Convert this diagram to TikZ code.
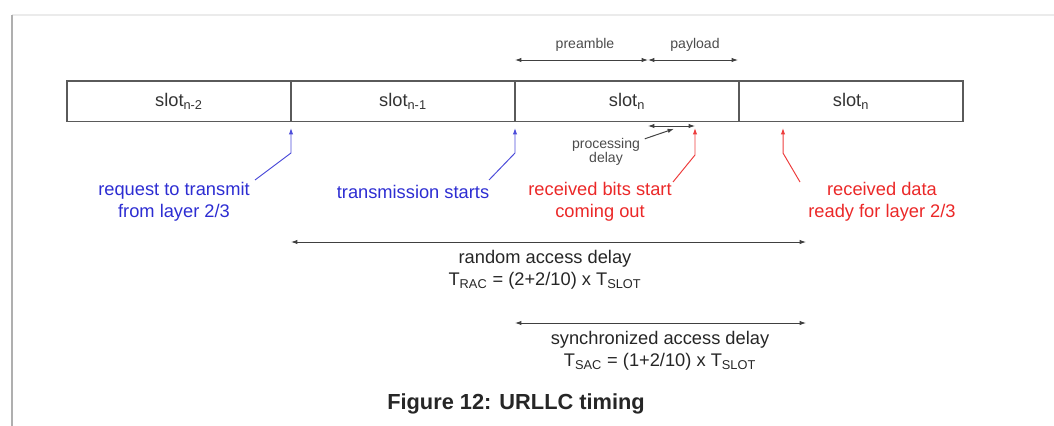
\documentclass[tikz,border=0pt]{standalone}
\usepackage{fontspec}
\setmainfont{Liberation Sans}
\usetikzlibrary{arrows.meta, positioning}
\definecolor{reqblue}{RGB}{45,45,210}
\definecolor{rxred}{RGB}{235,40,40}
\definecolor{boxgray}{RGB}{90,90,90}
\definecolor{framegray}{RGB}{175,175,175}

\begin{document}
\begin{tikzpicture}[
    slot/.style={draw=boxgray, line width=1.1pt, minimum width=5.6cm, minimum height=1.02cm, inner sep=0pt, text=black!80, font=\fontsize{13}{15}\selectfont},
    small/.style={text=black!70, align=center, font=\fontsize{10}{12}\selectfont},
    note/.style={align=center, font=\fontsize{13}{15.5}\selectfont},
    arrow/.style={{Latex[length=1.6mm,width=1.1mm]}-{Latex[length=1.6mm,width=1.1mm]}, black!75, line width=0.6pt},
    lead/.style={-{Latex[length=1.6mm,width=1.1mm]}, line width=0.7pt}
]
    % page frame
    \useasboundingbox (0,0) rectangle (26.35,-10.65);
    \draw[black!8, line width=1.5pt] (0.3,-0.375) -- (26.35,-0.375);
    \draw[framegray, line width=1.6pt] (0.3,-0.375) -- (0.3,-10.65);

    % Slots
    \node[slot] (slotA) at (4.475,-2.53) {slot\textsubscript{n-2}};
    \node[slot] (slotB) at (10.075,-2.53) {slot\textsubscript{n-1}};
    \node[slot] (slotC) at (15.675,-2.53) {slot\textsubscript{n}};
    \node[slot] (slotD) at (21.275,-2.53) {slot\textsubscript{n}};

    % Preamble / payload
    \coordinate (preL) at (12.875,-1.5);
    \coordinate (preR) at (16.2,-1.5);
    \coordinate (payR) at (18.45,-1.5);
    \node[small] (preamble) at (14.625,-1.12) {preamble};
    \node[small] (payload) at (17.375,-1.12) {payload};
    \draw[arrow] (preL) -- (preR);
    \draw[arrow] (preR) -- (payR);

    % Processing delay
    \coordinate (procL) at (16.2,-3.15);
    \coordinate (procR) at (17.375,-3.15);
    \coordinate (procP) at (16.85,-3.22);
    \coordinate (procQ) at (16.12,-3.47);
    \node[small] (proc) at (15.15,-3.79) {processing\\[-2pt]delay};
    \draw[arrow] (procL) -- (procR);
    \draw[lead, black!75] (procQ) -- (procP);

    % Events
    \node[note, text=reqblue] (request) at (4.35,-5.05) {request to transmit\\from layer 2/3};
    \node[note, text=reqblue] (txstart) at (10.325,-4.8) {transmission starts};
    \node[note, text=rxred] (rxbits) at (15.0,-5.05) {received bits start\\coming out};
    \node[note, text=rxred] (rxdata) at (22.05,-5.05) {received data\\ready for layer 2/3};

    \coordinate (reqTip) at (7.275,-3.2);
    \coordinate (reqKnee) at (7.275,-3.825);
    \coordinate (reqEnd) at (6.375,-4.5);
    \coordinate (txTip) at (12.875,-3.2);
    \coordinate (txKnee) at (12.875,-3.825);
    \coordinate (txEnd) at (12.225,-4.5);
    \coordinate (bitsTip) at (17.375,-3.2);
    \coordinate (bitsKnee) at (17.375,-3.875);
    \coordinate (bitsEnd) at (16.825,-4.55);
    \coordinate (dataTip) at (19.575,-3.2);
    \coordinate (dataKnee) at (19.575,-3.825);
    \coordinate (dataEnd) at (20.0,-4.55);

    \draw[lead, reqblue!85] (reqEnd) -- (reqKnee) -- (reqTip);
    \draw[lead, reqblue!85] (txEnd) -- (txKnee) -- (txTip);
    \draw[lead, rxred!90] (bitsEnd) -- (bitsKnee) -- (bitsTip);
    \draw[lead, rxred!90] (dataEnd) -- (dataKnee) -- (dataTip);

    % Delays
    \coordinate (racL) at (7.275,-6.05);
    \coordinate (racR) at (20.15,-6.05);
    \coordinate (sacL) at (12.875,-8.075);
    \coordinate (sacR) at (20.15,-8.075);
    \draw[arrow] (racL) -- (racR);
    \draw[arrow] (sacL) -- (sacR);
    \node[note, text=black!85] (rac) at (13.625,-6.74) {random access delay\\T\textsubscript{RAC} = (2+2/10) x T\textsubscript{SLOT}};
    \node[note, text=black!85] (sac) at (16.5,-8.76) {synchronized access delay\\T\textsubscript{SAC} = (1+2/10) x T\textsubscript{SLOT}};

    % Caption
    \node[font=\fontsize{15.5}{18}\selectfont\bfseries, text=black!85] (caption) at (12.9,-10.1) {Figure 12: URLLC timing};
\end{tikzpicture}
\end{document}
